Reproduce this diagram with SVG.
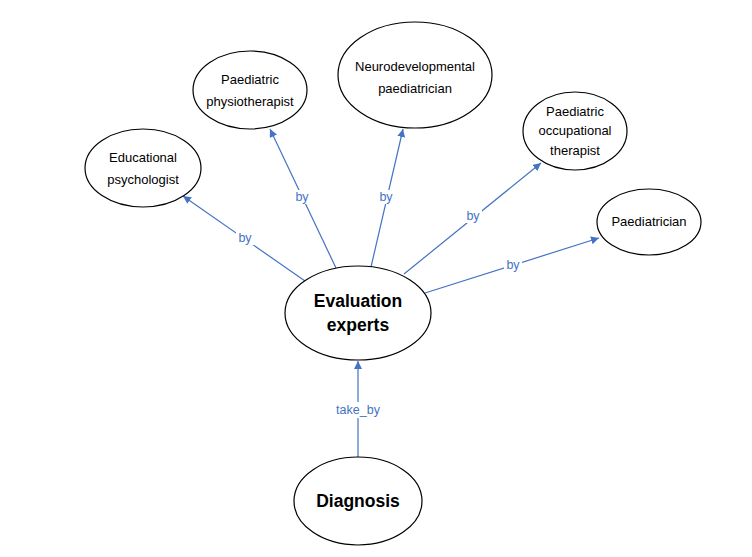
<svg xmlns="http://www.w3.org/2000/svg" width="752" height="557" viewBox="0 0 752 557">
<defs>
<marker id="arr" viewBox="0 0 10 10" refX="10" refY="5" markerWidth="8" markerHeight="8" markerUnits="userSpaceOnUse" orient="auto">
<path d="M0,0 L10,5 L0,10 z" fill="#4472C4"/>
</marker>
</defs>
<style>
.n{fill:#fff;stroke:#000;stroke-width:1.2}
.t{font-family:"Liberation Sans",Arial,sans-serif;font-size:13px;fill:#000;text-anchor:middle}
.b{font-family:"Liberation Sans",Arial,sans-serif;font-size:17.5px;font-weight:bold;fill:#000;text-anchor:middle}
.e{stroke:#4472C4;stroke-width:1.2;fill:none;marker-end:url(#arr)}
.l{font-family:"Liberation Sans",Arial,sans-serif;font-size:12.5px;fill:#4472C4;text-anchor:middle}
.bg{fill:#fff}
</style>
<rect width="752" height="557" fill="#fff"/>
<g id="connectors">
<line class="e" x1="358" y1="457" x2="358" y2="361"/>
<line class="e" x1="305" y1="281" x2="183" y2="196"/>
<line class="e" x1="336" y1="268" x2="270" y2="129"/>
<line class="e" x1="371" y1="267" x2="403" y2="129"/>
<line class="e" x1="404" y1="274" x2="541" y2="163"/>
<line class="e" x1="425" y1="293" x2="599" y2="238"/>
<rect class="bg" x="331" y="402" width="54" height="16"/>
<text class="l" x="358" y="414">take_by</text>
<rect class="bg" x="236" y="231" width="18" height="14"/>
<text class="l" x="245" y="242">by</text>
<rect class="bg" x="293" y="190" width="18" height="14"/>
<text class="l" x="302" y="201">by</text>
<rect class="bg" x="377" y="190" width="18" height="14"/>
<text class="l" x="386" y="201">by</text>
<rect class="bg" x="464" y="209" width="18" height="14"/>
<text class="l" x="473" y="220">by</text>
<rect class="bg" x="504" y="258" width="18" height="14"/>
<text class="l" x="513" y="269">by</text>
</g>
<g id="evaluation">
<ellipse class="n" cx="358" cy="313" rx="73" ry="47"/>
<text class="b" x="358" y="307">Evaluation</text>
<text class="b" x="358" y="331">experts</text>
</g>
<g id="diagnosis">
<ellipse class="n" cx="358" cy="501" rx="64" ry="44"/>
<text class="b" x="358" y="507">Diagnosis</text>
</g>
<g id="educational">
<ellipse class="n" cx="143" cy="168" rx="58" ry="39"/>
<text class="t" x="143" y="162">Educational</text>
<text class="t" x="143" y="184">psychologist</text>
</g>
<g id="physio">
<ellipse class="n" cx="250" cy="90" rx="57" ry="39"/>
<text class="t" x="250" y="84">Paediatric</text>
<text class="t" x="250" y="106">physiotherapist</text>
</g>
<g id="neuro">
<ellipse class="n" cx="415" cy="75" rx="77" ry="53"/>
<text class="t" x="415" y="71">Neurodevelopmental</text>
<text class="t" x="415" y="93">paediatrician</text>
</g>
<g id="ot">
<ellipse class="n" cx="575" cy="131" rx="52" ry="39"/>
<text class="t" x="575" y="116">Paediatric</text>
<text class="t" x="575" y="135">occupational</text>
<text class="t" x="575" y="155">therapist</text>
</g>
<g id="paediatrician">
<ellipse class="n" cx="649" cy="222" rx="52" ry="33"/>
<text class="t" x="649" y="226">Paediatrician</text>
</g>
</svg>
